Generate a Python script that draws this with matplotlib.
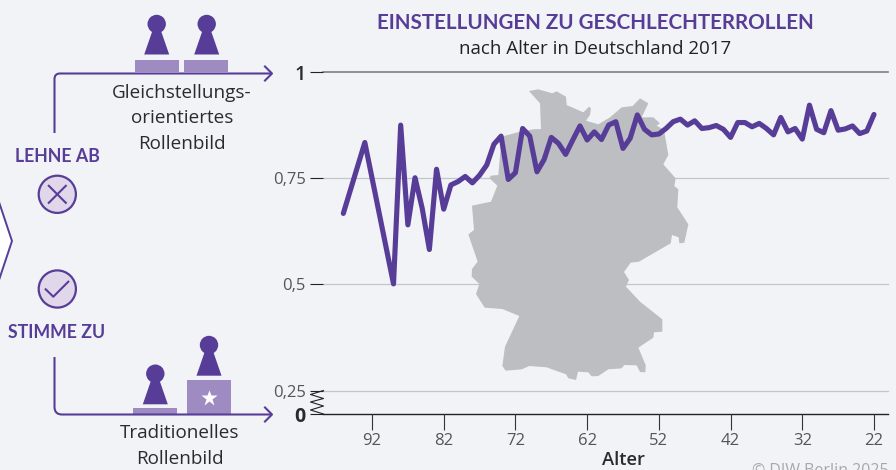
import matplotlib
matplotlib.use("Agg")
import matplotlib.pyplot as plt
from matplotlib.patches import Circle, Polygon, Rectangle, PathPatch
from matplotlib.path import Path

ages = [96, 93, 89, 88, 87, 86, 85, 84, 83, 82, 81, 80, 79, 78, 77, 76, 75, 74, 73, 72,
        71, 70, 69, 68, 67, 66, 65, 64, 63, 62, 61, 60, 59, 58, 57, 56, 55, 54, 53, 52,
        51, 50, 49, 48, 47, 46, 45, 44, 43, 42, 41, 40, 39, 38, 37, 36, 35, 34, 33, 32,
        31, 30, 29, 28, 27, 26, 25, 24, 23, 22]
values = [0.667, 0.834, 0.501, 0.875, 0.640, 0.751, 0.679, 0.582, 0.771, 0.677,
          0.734, 0.742, 0.754, 0.739, 0.757, 0.781, 0.830, 0.849, 0.747, 0.763,
          0.867, 0.849, 0.765, 0.794, 0.846, 0.832, 0.806, 0.840, 0.873, 0.840,
          0.859, 0.841, 0.875, 0.883, 0.820, 0.844, 0.899, 0.865, 0.852, 0.854,
          0.867, 0.883, 0.889, 0.875, 0.885, 0.867, 0.869, 0.874, 0.865, 0.846,
          0.881, 0.881, 0.871, 0.879, 0.867, 0.852, 0.893, 0.859, 0.867, 0.842,
          0.922, 0.865, 0.857, 0.909, 0.863, 0.866, 0.873, 0.855, 0.861, 0.900]
x_ticks = [92, 82, 72, 62, 52, 42, 32, 22]
y_grid = [0.25, 0.5, 0.75, 1]
y_labels = ["0,25", "0,5", "0,75", "1"]
y_zero = 0.1947  # where the broken axis puts its 0

PURPLE = "#573d98"
LIGHT = "#9d8bc1"
PALE = "#e0d8ea"
BG = "#f1f3f6"
MAP = "#bdbec1"
DARK = "#2b2b2b"
GREY = "#555555"

head_font = "Lato"
plt.rcParams["font.family"] = ["Open Sans", "DejaVu Sans"]

fig = plt.figure(figsize=(8.96, 4.70), dpi=100, facecolor=BG)

# overlay in pixel coordinates for icons, arrows and map
bg = fig.add_axes([0, 0, 1, 1], zorder=1)
bg.set_xlim(0, 896)
bg.set_ylim(470, 0)
bg.axis("off")

# chart axes: 323..888 px wide, 72..414 px high
ax = fig.add_axes([323 / 896, (470 - 414) / 470, 565 / 896, 342 / 470], zorder=2)
ax.patch.set_alpha(0)
for s in ax.spines.values():
    s.set_visible(False)
ax.set_xlim(92 + (372 - 323) / 7.171, 22 - (888 - 874) / 7.171)
ax.set_ylim(y_zero, 1)

for v in y_grid:
    top = v == 1
    ax.axhline(v, color="#7f7f7f" if top else "#c4c5c8", lw=1.2 if top else 0.9, zorder=1, clip_on=False)
ax.axhline(y_zero, color="#222222", lw=1.0, zorder=1, clip_on=False)
ax.set_yticks(y_grid + [y_zero])
ax.set_yticklabels(y_labels + ["0"], fontsize=12, color=GREY)
ax.get_yticklabels()[3].set(color=DARK, fontweight="semibold", fontsize=14)
ax.get_yticklabels()[4].set(color=DARK, fontweight="bold", fontsize=14)
ax.tick_params(axis="y", length=9.4, width=0.8, color="#222222", pad=3)
ax.set_xticks(x_ticks)
ax.set_xticklabels([str(a) for a in x_ticks], fontsize=12, color=GREY)
ax.tick_params(axis="x", length=11.5, width=0.8, color="#333333", pad=2.2)

ax.plot(ages, values, color=PURPLE, lw=3.7, solid_joinstyle="round", solid_capstyle="round",
        zorder=5, clip_on=False)

# Germany outline, drawn from the zoomed crop (zoom px -> picture px)
outline = [(267, 33), (295, 28), (337, 40), (350, 34), (378, 50), (380, 75), (430, 97), (447, 80),
           (453, 85), (450, 105), (438, 122), (475, 133), (510, 112), (545, 82), (578, 78), (600, 55),
           (625, 70), (605, 112), (640, 112), (660, 130), (650, 137), (672, 150), (685, 225), (670, 253),
           (707, 295), (703, 318), (715, 328), (712, 382), (745, 433), (733, 488), (718, 490), (716, 472),
           (696, 465), (692, 490), (597, 545), (572, 548), (552, 576), (567, 600), (558, 620), (600, 665),
           (667, 718), (667, 755), (642, 757), (640, 773), (595, 803), (617, 855), (616, 877), (600, 876),
           (590, 856), (553, 855), (545, 865), (505, 868), (475, 888), (455, 889), (445, 877), (414, 875),
           (408, 900), (385, 895), (378, 883), (320, 862), (268, 858), (245, 868), (197, 872), (187, 858),
           (195, 800), (238, 708), (187, 687), (134, 683), (108, 642), (118, 612), (95, 590), (96, 567),
           (113, 545), (85, 463), (102, 450), (96, 377), (153, 365), (172, 317), (149, 295), (152, 287),
           (175, 285), (185, 170), (240, 155), (280, 148), (303, 147), (300, 70)]
germany = Polygon([(440 + x / 3, 80 + y / 3) for x, y in outline], closed=True, fc=MAP, ec="none",
                  transform=bg.transData, zorder=2)
ax.add_patch(germany)


def pawn(cx, head_y, base_y):
    bg.add_patch(Circle((cx, head_y), 9.2, fc=PURPLE, ec="none"))
    bg.add_patch(Polygon([(cx - 4, head_y + 6), (cx + 4, head_y + 6), (cx + 12.5, base_y), (cx - 12.5, base_y)],
                         closed=True, fc=PURPLE, ec="none"))


def bar(x0, x1, y0, y1):
    bg.add_patch(Rectangle((x0, y0), x1 - x0, y1 - y0, fc=LIGHT, ec="none"))


def arrow(points, codes, tip_x, tip_y):
    bg.add_patch(PathPatch(Path(points, codes), fc="none", ec=PURPLE, lw=1.5, capstyle="butt"))
    bg.plot([tip_x - 7, tip_x, tip_x - 7], [tip_y - 7, tip_y, tip_y + 7], color=PURPLE, lw=1.5)


bar(135, 179, 60, 72)
bar(184, 228, 60, 72)
pawn(156.7, 24, 54.5)
pawn(206.7, 24, 54.5)
bar(133, 177, 408, 414)
bar(187, 231, 380, 414)
pawn(155.3, 373.7, 404.3)
pawn(209, 345, 375.7)
bg.plot([208.7], [397.7], marker="*", ms=12, color="white", mec="none")

arrow([(54.5, 133), (54.5, 79), (54.5, 73.5), (60, 73.5), (272, 73.5)],
      [Path.MOVETO, Path.LINETO, Path.CURVE3, Path.CURVE3, Path.LINETO], 272, 73.5)
arrow([(54.5, 357), (54.5, 407), (54.5, 414.5), (62, 414.5), (272, 414.5)],
      [Path.MOVETO, Path.LINETO, Path.CURVE3, Path.CURVE3, Path.LINETO], 272, 414.5)

# answer circles
for cy in (194.3, 289):
    bg.add_patch(Circle((57.3, cy), 18.6, fc=PALE, ec=PURPLE, lw=1.6))
bg.plot([48.8, 65.8], [185.8, 202.8], color=PURPLE, lw=1.5)
bg.plot([48.8, 65.8], [202.8, 185.8], color=PURPLE, lw=1.5)
bg.plot([45.7, 53.3, 68.3], [289.3, 296.7, 281.7], color=PURPLE, lw=1.5)

# chevron at the left edge
bg.add_patch(Polygon([(-5, 190), (12, 241), (-5, 292)], closed=True, fc="white", ec=PURPLE, lw=1.4))

# axis break
bg.plot([323.5, 310.5, 323.5, 310.5, 323.5, 310.5, 323.5], [390.5, 394.5, 398.5, 402, 406, 410, 414],
        color="#222222", lw=0.8)

bg.text(595, 23, "EINSTELLUNGEN ZU GESCHLECHTERROLLEN", family=head_font, fontweight="bold",
        fontsize=14.9, color=PURPLE, ha="center", va="center")
bg.text(595, 49, "nach Alter in Deutschland 2017", fontsize=13.5, color="#222222", ha="center", va="center")
bg.text(57, 156, "LEHNE AB", family=head_font, fontweight="bold", fontsize=12.8, color=PURPLE,
        ha="center", va="center")
bg.text(57, 332, "STIMME ZU", family=head_font, fontweight="bold", fontsize=12.8, color=PURPLE,
        ha="center", va="center")
for y, line in zip((93, 118, 144), ("Gleichstellungs-", "orientiertes", "Rollenbild")):
    bg.text(182, y, line, fontsize=13.6, color=DARK, ha="center", va="center")
for y, line in zip((433, 459), ("Traditionelles", "Rollenbild")):
    bg.text(179.5, y, line, fontsize=13.6, color=DARK, ha="center", va="center")
bg.text(623, 460, "Alter", fontsize=13.2, fontweight="semibold", color=DARK, ha="center", va="center")
bg.text(752, 470.5, "© DIW Berlin 2025", fontsize=11.5, color="#a8a8a8", ha="left", va="center")

fig.savefig("out.png", dpi=100, facecolor=BG)
